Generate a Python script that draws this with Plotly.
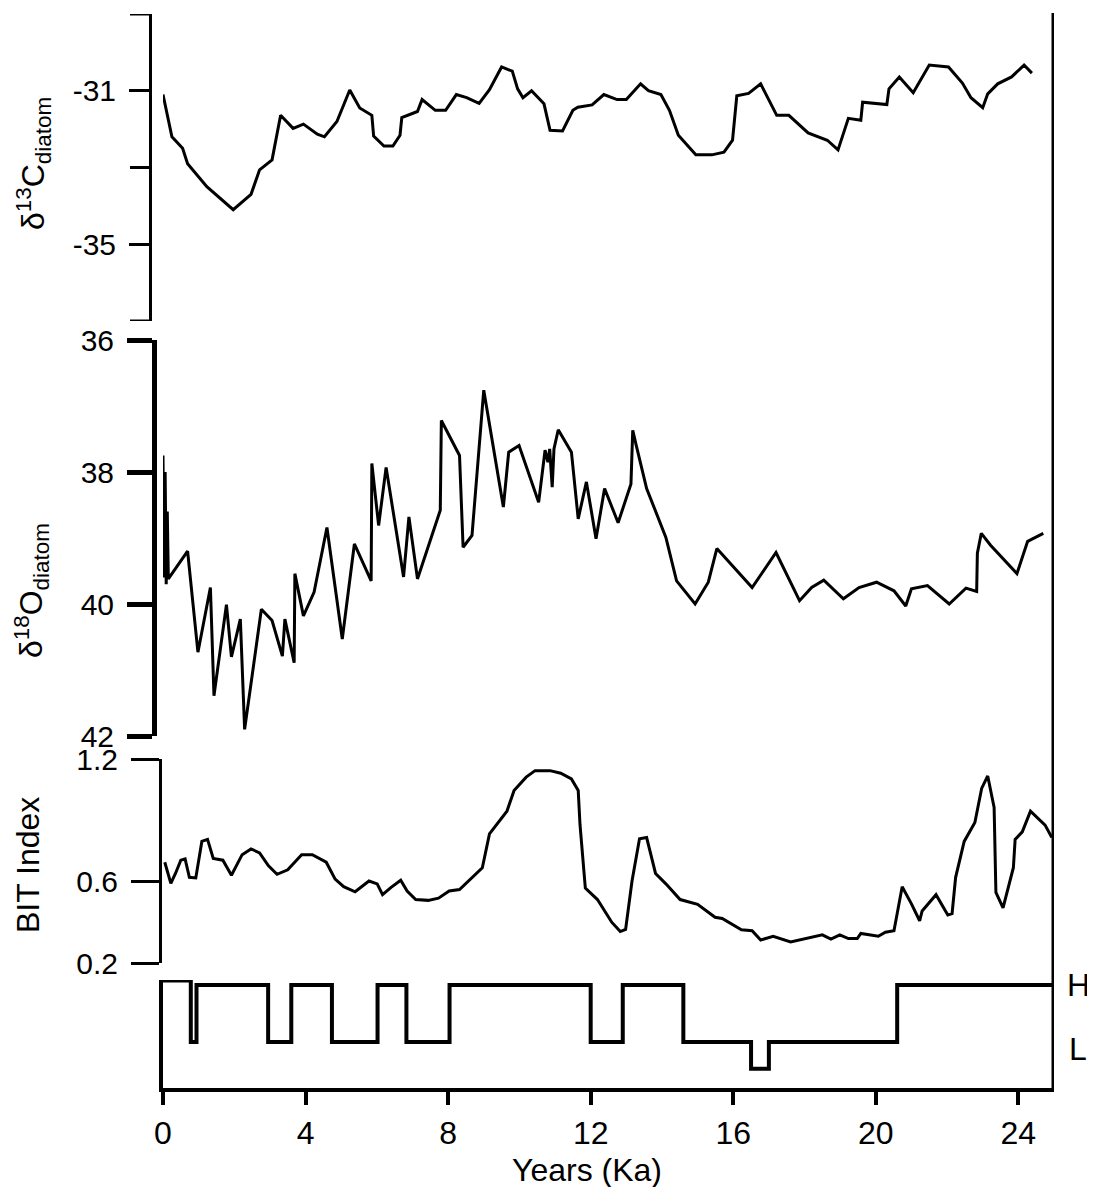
import plotly.graph_objects as go

W, H = 1095, 1187
PAGE_OFFSET = 8  # the page body margin shifts the figure by 8px

# ---- data (age in Ka) ----
age_c13 = [0.0, 0.25, 0.55, 0.69, 1.23, 1.97, 2.47, 2.71, 3.06, 3.30,
           3.65, 3.94, 4.33, 4.53, 4.88, 5.24, 5.52, 5.86, 5.91, 6.20,
           6.45, 6.65, 6.70, 7.14, 7.27, 7.64, 7.93, 8.23, 8.52, 8.87,
           9.16, 9.50, 9.80, 9.95, 10.10, 10.34, 10.69, 10.86, 11.21, 11.50,
           11.64, 12.04, 12.37, 12.74, 13.00, 13.40, 13.62, 13.97, 14.21, 14.46,
           14.95, 15.40, 15.74, 15.98, 16.10, 16.43, 16.77, 17.22, 17.56, 18.10,
           18.64, 18.94, 19.23, 19.58, 19.63, 20.31, 20.37, 20.66, 21.05, 21.50,
           22.04, 22.43, 22.67, 23.00, 23.14, 23.42, 23.81, 24.16, 24.38]
d13c = [-31.1, -32.2, -32.5, -32.9, -33.5, -34.1, -33.7, -33.06, -32.8, -31.64,
        -31.98, -31.87, -32.13, -32.2, -31.8, -30.98, -31.45, -31.64, -32.18, -32.44,
        -32.44, -32.16, -31.7, -31.54, -31.23, -31.51, -31.51, -31.1, -31.18, -31.33,
        -30.97, -30.38, -30.49, -30.95, -31.18, -31.0, -31.34, -32.03, -32.05, -31.51,
        -31.43, -31.37, -31.1, -31.23, -31.23, -30.82, -31.0, -31.1, -31.51, -32.16,
        -32.67, -32.67, -32.6, -32.29, -31.13, -31.07, -30.82, -31.64, -31.64, -32.1,
        -32.29, -32.54, -31.72, -31.77, -31.3, -31.36, -30.95, -30.64, -31.05, -30.33,
        -30.38, -30.8, -31.18, -31.44, -31.08, -30.82, -30.64, -30.33, -30.54]

age_o18 = [0.0, 0.03, 0.06, 0.09, 0.12, 0.15, 0.69, 0.98, 1.33, 1.43,
           1.78, 1.92, 2.17, 2.29, 2.76, 3.06, 3.35, 3.42, 3.68, 3.70,
           3.94, 4.24, 4.60, 5.03, 5.37, 5.84, 5.86, 6.05, 6.26, 6.75,
           6.90, 7.14, 7.78, 7.81, 8.32, 8.42, 8.67, 9.00, 9.55, 9.70,
           9.99, 10.54, 10.72, 10.80, 10.85, 10.92, 10.97, 11.09, 11.46, 11.55,
           11.65, 11.88, 12.15, 12.39, 12.77, 13.13, 13.18, 13.28, 13.57, 14.11,
           14.41, 14.93, 15.30, 15.54, 16.53, 17.20, 17.86, 18.20, 18.54, 19.09,
           19.53, 20.02, 20.51, 20.84, 21.00, 21.45, 22.06, 22.53, 22.83, 22.85,
           22.96, 23.22, 23.96, 24.26, 24.70]
d18o = [37.75, 39.6, 38.0, 39.7, 38.6, 39.62, 39.2, 40.73, 39.75, 41.39,
        40.01, 40.8, 40.23, 41.9, 40.08, 40.25, 40.79, 40.23, 40.89, 39.54,
        40.18, 39.82, 38.84, 40.53, 39.09, 39.65, 37.87, 38.81, 37.93, 39.59,
        38.68, 39.62, 38.58, 37.22, 37.75, 39.14, 38.96, 36.76, 38.53, 37.7,
        37.6, 38.46, 37.67, 37.85, 37.65, 38.23, 37.65, 37.36, 37.7, 38.23,
        38.71, 38.15, 39.01, 38.25, 38.77, 38.18, 37.37, 37.6, 38.25, 38.99,
        39.65, 40.0, 39.67, 39.16, 39.75, 39.22, 39.95, 39.75, 39.64, 39.92,
        39.75, 39.67, 39.8, 40.03, 39.77, 39.72, 40.0, 39.76, 39.81, 39.23,
        38.93, 39.11, 39.54, 39.05, 38.93]

age_bit = [0.05, 0.22, 0.35, 0.5, 0.62, 0.74, 0.92, 1.09, 1.25, 1.41,
           1.68, 1.92, 2.22, 2.47, 2.71, 2.96, 3.2, 3.5, 3.89, 4.19,
           4.58, 4.83, 5.07, 5.39, 5.78, 6.01, 6.16, 6.4, 6.67, 6.85,
           7.09, 7.44, 7.73, 8.03, 8.32, 8.62, 8.96, 9.16, 9.65, 9.85,
           10.19, 10.44, 10.86, 11.16, 11.46, 11.65, 11.7, 11.85, 12.19, 12.59,
           12.83, 12.98, 13.16, 13.37, 13.57, 13.82, 14.11, 14.51, 15.0, 15.49,
           15.69, 16.23, 16.53, 16.77, 17.12, 17.61, 18.2, 18.5, 18.74, 18.99,
           19.23, 19.48, 19.58, 20.07, 20.27, 20.51, 20.74, 21.0, 21.23, 21.3,
           21.69, 22.02, 22.14, 22.24, 22.48, 22.78, 22.97, 23.14, 23.32, 23.37,
           23.57, 23.86, 23.91, 24.11, 24.34, 24.75, 24.94]
bit = [0.694, 0.59, 0.639, 0.704, 0.71, 0.62, 0.617, 0.796, 0.806, 0.713,
       0.704, 0.63, 0.731, 0.759, 0.74, 0.676, 0.635, 0.657, 0.731, 0.731,
       0.694, 0.611, 0.574, 0.549, 0.602, 0.588, 0.535, 0.571, 0.606, 0.553,
       0.511, 0.507, 0.518, 0.553, 0.56, 0.611, 0.667, 0.833, 0.944, 1.046,
       1.111, 1.143, 1.143, 1.13, 1.102, 1.046, 0.879, 0.567, 0.511, 0.4,
       0.354, 0.365, 0.602, 0.809, 0.815, 0.639, 0.588, 0.511, 0.488, 0.424,
       0.418, 0.363, 0.358, 0.313, 0.331, 0.303, 0.324, 0.338, 0.317, 0.338,
       0.32, 0.32, 0.345, 0.331, 0.351, 0.358, 0.574, 0.49, 0.407, 0.455,
       0.535, 0.435, 0.442, 0.62, 0.796, 0.889, 1.056, 1.117, 0.963, 0.546,
       0.47, 0.667, 0.806, 0.843, 0.944, 0.876, 0.815]

# H/L state: 1 = H, 0 = L
age_hl = [0, 0.78, 0.94, 2.95, 3.6, 4.74, 6.02, 6.83, 8.04, 12.0,
          12.9, 14.6, 16.5, 17.0, 20.6, 25]
hl = [1.08, 0, 1, 0, 1, 0, 1, 0, 1, 0,
      1, 0, -0.47, 0, 1, 1]

x_ticks = [0, 4, 8, 12, 16, 20, 24]

FONT = "Liberation Sans, Arial, sans-serif"


def fy(px):
    # screen pixel row -> paper fraction
    return 1 - (px - PAGE_OFFSET) / H


def fx(px):
    return (px - PAGE_OFFSET) / W


line_style = dict(color="black", width=3)

fig = go.Figure()
fig.add_trace(go.Scatter(x=age_c13, y=d13c, mode="lines", line=line_style,
                         xaxis="x", yaxis="y"))
fig.add_trace(go.Scatter(x=age_o18, y=d18o, mode="lines", line=line_style,
                         xaxis="x", yaxis="y2"))
fig.add_trace(go.Scatter(x=age_bit, y=bit, mode="lines", line=line_style,
                         xaxis="x", yaxis="y3"))
fig.add_trace(go.Scatter(x=age_hl, y=hl, mode="lines", line_shape="hv",
                         line=dict(color="black", width=4),
                         xaxis="x", yaxis="y4"))

ytickfont = dict(family=FONT, size=30, color="black")
xtickfont = dict(family=FONT, size=32, color="black")
common_y = dict(showgrid=False, zeroline=False, showline=True, linecolor="black",
                ticks="outside", tickcolor="black", tickfont=ytickfont,
                ticklabelstandoff=7, anchor="free", fixedrange=True,
                automargin=False)

fig.update_layout(
    template="none",
    width=W, height=H, autosize=False,
    margin=dict(l=0, r=0, t=0, b=0, pad=0, autoexpand=False),
    paper_bgcolor="white", plot_bgcolor="white",
    showlegend=False,
    font=dict(family=FONT, color="black"),
    xaxis=dict(domain=[fx(163), fx(1054)], range=[0, 25], anchor="y4",
               showgrid=False, zeroline=False, showline=True, linecolor="black",
               linewidth=4, ticks="outside", ticklen=13, tickwidth=4,
               tickcolor="black", tickvals=x_ticks, tickfont=xtickfont,
               ticklabelstandoff=1, automargin=False),
    yaxis=dict(common_y, domain=[fy(321), fy(14)], range=[-37, -29],
               position=fx(150), linewidth=3, ticklen=20, tickwidth=3,
               tickvals=[-35, -31], ticktext=["-35", "-31"]),
    yaxis2=dict(common_y, domain=[fy(736), fy(340)], range=[42, 36],
                position=fx(154), linewidth=5, ticklen=25, tickwidth=5,
                tickvals=[36, 38, 40, 42]),
    yaxis3=dict(common_y, domain=[fy(963), fy(759)], range=[0.2, 1.2],
                position=fx(160), linewidth=3, ticklen=28, tickwidth=3,
                tickvals=[0.2, 0.6, 1.2], ticktext=["0.2", "0.6", "1.2"]),
    yaxis4=dict(domain=[fy(1088), fy(980)], range=[-0.807, 1.088], anchor="x",
                showgrid=False, zeroline=False, showline=True, linecolor="black",
                linewidth=4, ticks="", showticklabels=False, automargin=False),
)

# unlabeled ticks on the δ13C axis (-37, -33, -29)
for v in [-37, -33, -29]:
    fig.add_shape(type="line", xref="paper", yref="y", x0=fx(130), x1=fx(150),
                  y0=v, y1=v, line=dict(color="black", width=3))

# right-hand frame line running through all panels
fig.add_shape(type="line", xref="x", yref="paper", x0=25, x1=25,
              y0=fy(1088), y1=fy(13), line=dict(color="black", width=5))

title_font = dict(family=FONT, size=32, color="black")
fig.add_annotation(text="δ<sup>13</sup>C<sub>diatom</sub>", textangle=-90,
                   xref="paper", yref="paper", x=fx(33), y=fy(164),
                   xanchor="center", yanchor="middle", showarrow=False,
                   font=title_font)
fig.add_annotation(text="δ<sup>18</sup>O<sub>diatom</sub>", textangle=-90,
                   xref="paper", yref="paper", x=fx(31), y=fy(591),
                   xanchor="center", yanchor="middle", showarrow=False,
                   font=title_font)
fig.add_annotation(text="BIT Index", textangle=-90,
                   xref="paper", yref="paper", x=fx(28), y=fy(865),
                   xanchor="center", yanchor="middle", showarrow=False,
                   font=title_font)
fig.add_annotation(text="Years (Ka)", xref="paper", yref="paper",
                   x=fx(587), y=fy(1170), xanchor="center", yanchor="middle",
                   showarrow=False, font=title_font)
fig.add_annotation(text="H", xref="paper", yref="y4", x=fx(1065), y=1,
                   xanchor="left", yanchor="middle", showarrow=False,
                   font=xtickfont)
fig.add_annotation(text="L", xref="paper", yref="y4", x=fx(1067), y=0,
                   yshift=-7, xanchor="left", yanchor="middle", showarrow=False,
                   font=xtickfont)

fig.write_html("out.html")
